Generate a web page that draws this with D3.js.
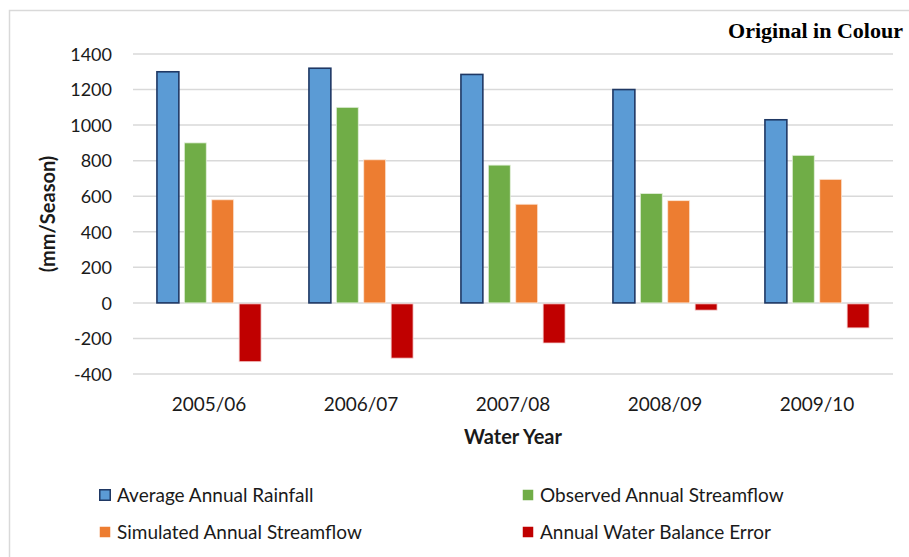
<!DOCTYPE html>
<html><head><meta charset="utf-8">
<script src="https://cdn.jsdelivr.net/npm/d3@7"></script>
<style>body{margin:0;background:#fff}svg{display:block}</style>
</head><body>
<script>
const categories = ["2005/06","2006/07","2007/08","2008/09","2009/10"];
const seriesNames = ["Average Annual Rainfall","Observed Annual Streamflow","Simulated Annual Streamflow","Annual Water Balance Error"];
const rainfall = [1300,1320,1285,1200,1030];
const observed = [900,1100,775,615,830];
const simulated = [580,805,555,575,695];
const balanceError = [-325,-305,-220,-35,-135];
const yTicks = [-400,-200,0,200,400,600,800,1000,1200,1400];
const colors = ["#5B9BD5","#70AD47","#ED7D31","#C00000"];
const strokes = ["#1F3864","#E2EFDA","#FBE5D6","#F4CCCC"];

const series = [rainfall, observed, simulated, balanceError];
const W=909,H=557;
const svg=d3.select("body").append("svg").attr("width",W).attr("height",H);
const font="Lato, 'Open Sans', sans-serif";
const txt="#1a1a1a";

svg.append("rect").attr("x",9.5).attr("y",10.5).attr("width",W).attr("height",H).attr("fill","none").attr("stroke","#D9D9D9").attr("stroke-width",1.5);

const left=133,right=893;
const y=d3.scaleLinear().domain([-400,1400]).range([374,54]);
const x0=d3.scaleBand().domain(categories).range([left,right]).paddingInner(0.315).paddingOuter(0.1575);
const x1=d3.scaleBand().domain(d3.range(4)).range([0,x0.bandwidth()]).paddingInner(0.2);

// gridlines
svg.append("g").selectAll("line").data(yTicks).join("line")
 .attr("x1",left).attr("x2",right).attr("y1",d=>y(d)).attr("y2",d=>y(d))
 .attr("stroke","#D9D9D9").attr("stroke-width",1.5);

// y axis labels
const yAxis=d3.axisLeft(y).tickValues(yTicks).tickSize(0).tickPadding(0).tickFormat(d=>String(d));
const ga=svg.append("g").attr("transform",`translate(112,0)`).call(yAxis);
ga.select(".domain").remove();
ga.selectAll("text").attr("font-family",font).attr("font-size",18).attr("fill",txt).attr("dy","0.35em");

// bars
const groups=svg.append("g").selectAll("g").data(categories).join("g")
 .attr("transform",d=>`translate(${x0(d)},0)`);
groups.selectAll("rect").data((d,i)=>series.map((s,k)=>({k,v:s[i]}))).join("rect")
 .attr("x",d=>x1(d.k)).attr("width",x1.bandwidth())
 .attr("y",d=>d.v>=0?y(d.v):y(0)+1)
 .attr("height",d=>Math.abs(y(d.v)-y(0)))
 .attr("fill",d=>colors[d.k])
 .attr("stroke",d=>strokes[d.k])
 .attr("stroke-width",d=>d.k===0?1.6:0.8);

// x axis labels
const xAxis=d3.axisBottom(x0).tickSize(0).tickPadding(0);
const gx=svg.append("g").attr("transform","translate(0,397)").call(xAxis);
gx.select(".domain").remove();
gx.selectAll("text").attr("font-family",font).attr("font-size",19).attr("fill",txt).attr("dy","0.71em");

// axis titles
svg.append("text").attr("x",513).attr("y",444).attr("text-anchor","middle").attr("fill",txt)
 .attr("font-family",font).attr("font-weight","bold").attr("font-size",20).text("Water Year");
svg.append("text").attr("transform","translate(55,214) rotate(-90)").attr("text-anchor","middle").attr("fill",txt)
 .attr("font-family",font).attr("font-weight","bold").attr("font-size",20).text("(mm/Season)");

// top-right note
svg.append("text").attr("x",903).attr("y",38).attr("text-anchor","end")
 .attr("font-family","'Liberation Serif', serif").attr("font-weight","bold").attr("font-size",20)
 .attr("textLength",175).attr("lengthAdjust","spacingAndGlyphs").text("Original in Colour");

// legend
const legPos=[[99,495],[522,495],[99,532],[522,532]];
const lg=svg.append("g").selectAll("g").data(seriesNames).join("g")
 .attr("transform",(d,i)=>`translate(${legPos[i][0]},${legPos[i][1]})`);
lg.append("rect").attr("x",0.75).attr("y",-5.25).attr("width",10.5).attr("height",10.5)
 .attr("fill",(d,i)=>colors[i]).attr("stroke",(d,i)=>i===0?strokes[0]:"none").attr("stroke-width",1.5);
lg.append("text").attr("x",18).attr("y",0).attr("dy","0.35em").attr("fill",txt)
 .attr("font-family",font).attr("font-size",19).text(d=>d);
</script>
</body></html>
